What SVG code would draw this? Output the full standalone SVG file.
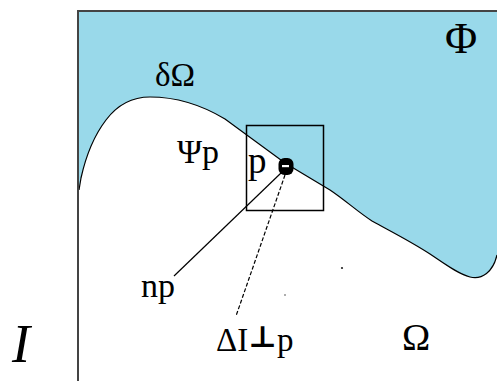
<svg xmlns="http://www.w3.org/2000/svg" width="497" height="381" viewBox="0 0 497 381">
<style>
.t{font-family:"Liberation Serif","Times New Roman",serif;fill:#000}
.perp{font-family:"DejaVu Serif","DejaVu Sans",serif;font-weight:bold;font-size:30px}
.ln{stroke:#000;stroke-width:1.2;fill:none}
</style>
<rect x="0" y="0" width="497" height="381" fill="#fff"/>
<g id="region-phi">
<path d="M79,190 L81,178 C85,160 93,137 106,120 C118,104 134,97 150,97 C175,97 200,104 225,119 L285,163 C300,172 315,181 330,190 C345,200 358,212 372,221 C390,231 410,241 430,254 C445,264 458,274 470,277 C482,280 493,272 497,255 L497,11 L79,11 Z" fill="#99D9EA"/>
<path d="M79,190 L81,178 C85,160 93,137 106,120 C118,104 134,97 150,97 C175,97 200,104 225,119 L285,163 C300,172 315,181 330,190 C345,200 358,212 372,221 C390,231 410,241 430,254 C445,264 458,274 470,277 C482,280 493,272 497,255" class="ln"/>
</g>
<g id="frame">
<line x1="78" y1="11" x2="497" y2="11" stroke="#444" stroke-width="2"/>
<line x1="78" y1="10" x2="78" y2="381" stroke="#444" stroke-width="2"/>
</g>
<g id="square-psi">
<rect x="246.5" y="125.5" width="77" height="85" fill="none" stroke="#000" stroke-width="1.5"/>
</g>
<g id="connectors">
<line x1="281" y1="173" x2="174" y2="276" class="ln"/>
<line x1="285" y1="175" x2="236" y2="316" class="ln" stroke-dasharray="4,2"/>
</g>
<g id="point-p">
<rect x="278.5" y="158" width="15" height="17" rx="6" fill="#000"/>
<rect x="282" y="165" width="7" height="2.2" fill="#fff"/>
</g>
<g id="specks">
<circle cx="342" cy="268" r="1.1" fill="#222"/>
<circle cx="285" cy="295" r="0.8" fill="#444"/>
</g>
<g id="labels">
<text class="t" x="445" y="53" font-size="44">Φ</text>
<text class="t" x="155" y="86" font-size="33">δΩ</text>
<text class="t" x="177" y="163" font-size="34">Ψp</text>
<text class="t" x="248" y="173" font-size="37">p</text>
<text class="t" x="141" y="297" font-size="34">np</text>
<text class="t" x="216" y="351" font-size="33">ΔI<tspan class="perp" dy="-4">⊥</tspan><tspan dy="4">p</tspan></text>
<text class="t" x="402" y="350" font-size="38">Ω</text>
<text class="t" x="12" y="362" font-size="54" font-style="italic">I</text>
</g>
</svg>
